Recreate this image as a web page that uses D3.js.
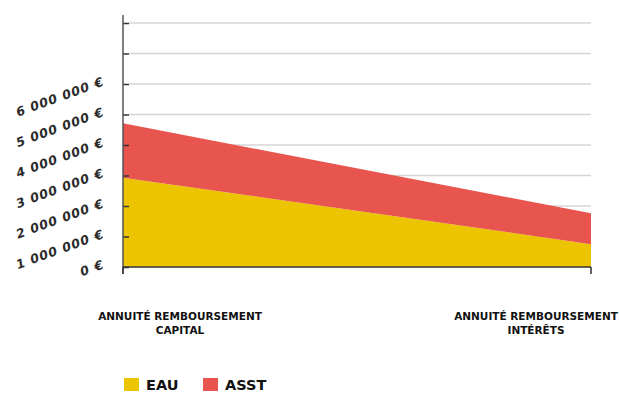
<!DOCTYPE html>
<html><head><meta charset="utf-8">
<script src="https://cdn.jsdelivr.net/npm/d3@7"></script>
<style>
html,body{margin:0;padding:0;background:#fff;}
svg{display:block;font-family:"DejaVu Sans", sans-serif;}
</style></head>
<body>
<svg id="c" width="619" height="394"></svg>
<script>
const categories = ["ANNUITÉ REMBOURSEMENT|CAPITAL", "ANNUITÉ REMBOURSEMENT|INTÉRÊTS"];
const seriesNames = ["EAU", "ASST"];
const eauValues = [2930000, 750000];
const asstValues = [1780000, 1010000];
const colors = ["#ECC500", "#E8554F"];
const yTicks = [0,1000000,2000000,3000000,4000000,5000000,6000000,7000000,8000000];
const yTickLabels = ["0 €","1 000 000 €","2 000 000 €","3 000 000 €","4 000 000 €","5 000 000 €","6 000 000 €","",""];

const svg = d3.select("#c");
const m = {left:123, right:28, top:23, bottom:127};
const W = 619, H = 394;
const x = d3.scalePoint().domain(categories).range([m.left, W - m.right]);
const y = d3.scaleLinear().domain([0, 8000000]).range([H - m.bottom, m.top]);

// gridlines
svg.append("g").selectAll("line").data(yTicks.slice(1)).join("line")
  .attr("x1", m.left + 6).attr("x2", W - m.right)
  .attr("y1", d => y(d)).attr("y2", d => y(d))
  .attr("stroke", "#d4d4d4").attr("stroke-width", 1.6);

const table = categories.map((c,i) => ({cat:c, EAU:eauValues[i], ASST:asstValues[i]}));
const stack = d3.stack().keys(seriesNames)(table);
const area = d3.area().x(d => x(d.data.cat)).y0(d => y(d[0])).y1(d => y(d[1]));
svg.append("g").selectAll("path").data(stack).join("path")
  .attr("d", area).attr("fill", (d,i) => colors[i]);

// left axis
const yAxis = d3.axisRight(y).tickValues(yTicks).tickSize(6).tickFormat("");
const ga = svg.append("g").attr("transform", `translate(${m.left},0)`).call(yAxis);
ga.select(".domain").remove();
ga.selectAll(".tick line").attr("stroke", "#333").attr("stroke-width", 1.5);
svg.append("line").attr("x1", m.left).attr("x2", m.left).attr("y1", 15).attr("y2", y(0) + 7)
  .attr("stroke", "#555").attr("stroke-width", 1.5);

// y labels
svg.append("g").selectAll("text").data(yTicks.map((v,i)=>({v, t:yTickLabels[i]})).filter(d=>d.t)).join("text")
  .attr("transform", d => `translate(${m.left - 18},${y(d.v) + 1}) rotate(-20)`)
  .attr("text-anchor", "end")
  .attr("font-size", 12.5).attr("font-weight", 700).attr("font-style", "oblique")
  .attr("fill", "#2b2b2b").attr("letter-spacing", 0.9)
  .text(d => d.t);

// bottom axis
svg.append("line").attr("x1", m.left).attr("x2", W - m.right).attr("y1", y(0)).attr("y2", y(0))
  .attr("stroke", "#333").attr("stroke-width", 1.5);
svg.append("g").selectAll("line").data(categories).join("line")
  .attr("x1", d => x(d)).attr("x2", d => x(d)).attr("y1", y(0)).attr("y2", y(0) + 7)
  .attr("stroke", "#333").attr("stroke-width", 1.5);

// category labels
const offs = [57, -55];
const cl = svg.append("g").selectAll("text").data(categories).join("text")
  .attr("text-anchor", "middle").attr("font-size", 10.5).attr("font-weight", 700).attr("fill", "#111");
cl.each(function(d,i){
  const parts = d.split("|");
  const t = d3.select(this);
  parts.forEach((p,j) => t.append("tspan").attr("x", x(d) + offs[i]).attr("y", 320 + j*14).text(p));
});

// legend
const lg = svg.append("g").selectAll("g").data(seriesNames).join("g")
  .attr("transform", (d,i) => `translate(${124 + i*79},378)`);
lg.append("rect").attr("width", 15).attr("height", 13).attr("fill", (d,i) => colors[i]);
lg.append("text").attr("x", 22).attr("y", 12).attr("font-size", 14.5).attr("font-weight", 700)
  .attr("fill", "#111").text(d => d);
</script>
</body></html>
